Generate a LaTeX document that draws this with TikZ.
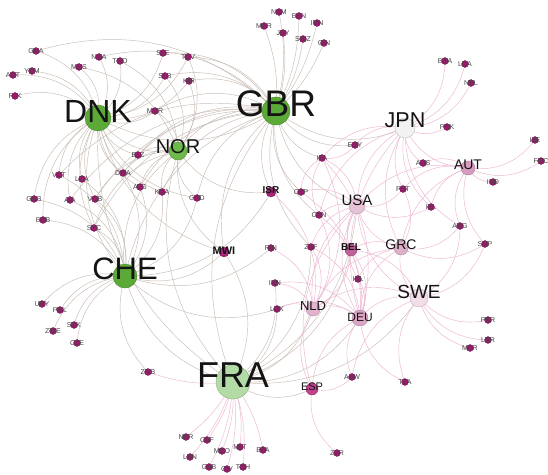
\documentclass[tikz,border=0pt]{standalone}
\usepackage{fontspec}
\setmainfont{Liberation Sans}
\usetikzlibrary{calc}
\pgfdeclarelayer{bg}
\pgfsetlayers{bg,main}
\definecolor{dotc}{HTML}{A3176F}
\definecolor{dotb}{HTML}{6B0B48}
\definecolor{hubg}{HTML}{5BAA38}
\definecolor{hubgl}{HTML}{6DB94A}
\definecolor{fral}{HTML}{B3DBA5}
\definecolor{edg}{HTML}{C9BCB4}
\definecolor{edp}{HTML}{EDB5D2}
\definecolor{labc}{HTML}{444444}
\definecolor{jpnc}{HTML}{F2F2F2}
\definecolor{usac}{HTML}{E6C3D6}
\definecolor{autc}{HTML}{D79BBF}
\definecolor{grcc}{HTML}{DDB0C9}
\definecolor{swec}{HTML}{F2DDE9}
\definecolor{nldc}{HTML}{E2B3CF}
\definecolor{deuc}{HTML}{DBA5C5}
\definecolor{belc}{HTML}{C0609A}
\definecolor{espc}{HTML}{C2418C}
\definecolor{mwic}{HTML}{A82579}
\begin{document}
\begin{tikzpicture}[x=1pt,y=-1pt,
  sm/.style={rectangle,inner sep=0pt,minimum height=8pt,minimum width=8pt,
    font=\fontsize{7}{7}\selectfont,text=labc,
    path picture={\fill[dotc,draw=dotb,line width=0.4pt] (path picture bounding box.center) circle (3.4pt);}},
  hub/.style n args={5}{circle,inner sep=0pt,minimum size=#1,fill=#2,draw=#2!80!black,line width=0.4pt,
    label={[font=\fontsize{#3}{#3}\selectfont,text=black!92,yshift=#4]center:#5}},
  hubb/.style n args={5}{circle,inner sep=0pt,minimum size=#1,fill=#2,draw=#2!80!black,line width=0.4pt,
    label={[font=\fontsize{#3}{#3}\selectfont\bfseries,text=black!92,yshift=#4]center:#5}},
  eg/.style={edg,line width=0.45pt},
  ep/.style={edp,line width=0.45pt}
]
\useasboundingbox (0,0) rectangle (548,474);
% hubs
\node[hub={26pt}{hubg}{32}{6.5pt}{DNK}] (DNK) at (98,118) {};
\node[hub={28pt}{hubg}{37}{7.5pt}{GBR}] (GBR) at (276,111) {};
\node[hub={18pt}{hubgl}{20}{4.5pt}{NOR}] (NOR) at (178,151) {};
\node[hub={24pt}{hubg}{31}{7.5pt}{CHE}] (CHE) at (125,276) {};
\node[hub={34pt}{fral}{36}{6.5pt}{FRA}] (FRA) at (233,382) {};
\node[hub={20pt}{jpnc}{21.5}{8pt}{JPN}] (JPN) at (405,128) {};
\node[hub={16pt}{usac}{15}{6pt}{USA}] (USA) at (357,206) {};
\node[hub={14pt}{autc}{14}{3pt}{AUT}] (AUT) at (468,168) {};
\node[hub={14pt}{grcc}{14}{3pt}{GRC}] (GRC) at (401,248) {};
\node[hub={18pt}{swec}{19}{6pt}{SWE}] (SWE) at (419,298) {};
\node[hub={14pt}{nldc}{13}{3pt}{NLD}] (NLD) at (313,309) {};
\node[hub={16pt}{deuc}{12}{1pt}{DEU}] (DEU) at (360,318) {};
\node[hubb={12pt}{belc}{10}{3pt}{BEL}] (BEL) at (351,250) {};
\node[hub={12pt}{espc}{11}{2pt}{ESP}] (ESP) at (312,389) {};
\node[hubb={10pt}{mwic}{11}{1pt}{MWI}] (MWI) at (224,252) {};
\node[hubb={10pt}{mwic}{10}{2pt}{ISR}] (ISR) at (271,192) {};
% small nodes
\foreach \n/\t/\x/\y in {
 GHA/GHA/36/51, YEM/YEM/32/71, AGT/AGT/13/75, FLK/FLK/15/96, MUS/MUS/79/67,
 NGA/NGA/99/57, TGO/TGO/120/61, SLE/SLE/163/53, TUV/TUV/188/57, SLB/SLB/165/76,
 KIR/KIR/189/81, MOR/MOR/155/111, BLZ/BLZ/138/155, VCT/VCT/59/175, LCAb/LCA/82/179,
 DMA/DMA/123/173, ATG/ATG/140/187, KNA/KNA/162/192, GRD/GRD/197/198, GNB/GNB/34/199,
 AIA/AIA/70/200, VGB/VGB/95/199, BRB/BRB/43/220, SYC/SYC/94/228, URY/URY/42/304,
 POL/POL/60/310, SVK/SVK/74/325, ZWE/ZWE/53/331, CZE/CZE/77/343, ZMB/ZMB/148/372,
 NAM/NAM/279/12, BEN/BEN/299/16, MHR/MHR/264/26, IMN/IMN/317/23, JEY/JEY/283/33,
 SWZ/SWZ/303/39, GIN/GIN/324/43, EGY/EGY/355/145, ITA/ITA/322/158, CYP/CYP/301/192,
 CAN/CAN/319/215, RIN/RIN/271/248, ZAF/ZAF/311/247, IRN/IRN/275/283, IRL/IRL/358/279,
 LUX/LUX/277/309, BRA/BRA/445/61, LCAa/LCA/465/64, NPL/NPL/471/83, PRK/PRK/447/127,
 AUS/AUS/423/163, LIE/LIE/535/140, FOC/FOC/541/161, IND/IND/493/182, PRT/PRT/403/189,
 ISL/ISL/431/207, ARG/ARG/460/226, SGP/SGP/485/244, PER/PER/488/320, LBR/LBR/488/340,
 MAR/MAR/470/348, TZA/TZA/405/382, ABW/ABW/352/377, ZAR/ZAR/337/453, NER/NER/186/437,
 CAF/CAF/207/440, MCO/MCO/222/451, MLT/MLT/240/447, BFA/BFA/263/450, LBN/LBN/190/457,
 GAB/GAB/209/467, CIV/CIV/227/469, TCH/TCH/243/467}
 \node[sm] (\n) at (\x,\y) {\t};
% edges
\begin{pgfonlayer}{bg}
\fill[white] (0,0) rectangle (548,474);
\foreach \t in {GHA,YEM,AGT,FLK,MUS,NGA,TGO,SLE,SLB,TUV,KIR,MOR,BLZ,VCT,LCAb,DMA,ATG,KNA,GRD,GNB,AIA,VGB,BRB,SYC,NOR,GBR,CHE,FRA,MWI}
  \draw[eg] (DNK.center) to[bend right=30] (\t.center);
\foreach \t in {NAM,BEN,MHR,IMN,JEY,SWZ,GIN}
  \draw[eg] (GBR.center) to[bend right=12] (\t.center);
\foreach \t in {SLE,SLB,TUV,KIR,MOR,BLZ,DMA,ATG,KNA,GRD,VCT,AIA,VGB,SYC,GHA,NGA,ISR,CYP,MWI,NOR,CHE,FRA,JPN,USA,ITA,EGY,CAN,ZAF}
  \draw[eg] (GBR.center) to[bend right=30] (\t.center);
\foreach \t in {SLB,KIR,MOR,BLZ,DMA,ATG,KNA,GRD,VGB,SYC,TUV,CHE,FRA,MWI,ISR,TGO,MUS}
  \draw[eg] (NOR.center) to[bend right=30] (\t.center);
\foreach \t in {URY,POL,SVK,ZWE,CZE,ZMB,GNB,BRB,AIA,VGB,SYC,LCAb,VCT,DMA,ATG,KNA,GRD,FRA,MWI,ISR,RIN,LUX}
  \draw[eg] (CHE.center) to[bend right=30] (\t.center);
\foreach \t in {NER,CAF,MCO,MLT,BFA,LBN,GAB,CIV,TCH,ZMB}
  \draw[ep] (FRA.center) to[bend left=12] (\t.center);
\foreach \t in {ESP,NLD,DEU,LUX,IRN,MWI,BEL,USA,ZAF,SWE}
  \draw[eg] (FRA.center) to[bend right=30] (\t.center);
\foreach \t in {BRA,LCAa,NPL,PRK,AUS,AUT,EGY,ITA,USA,PRT,ISL,ARG,CAN,DEU,GRC}
  \draw[ep] (JPN.center) to[bend right=30] (\t.center);
\foreach \t in {LIE,FOC,IND,AUS,PRT,ARG,ISL,SGP,USA,GRC}
  \draw[ep] (AUT.center) to[bend right=30] (\t.center);
\foreach \t in {ITA,CYP,CAN,ZAF,BEL,GRC,IRL,DEU,NLD,PRT,ISL,SWE,ESP}
  \draw[ep] (USA.center) to[bend right=30] (\t.center);
\foreach \t in {ARG,SGP,BEL,IRL,DEU,SWE,NLD,PRT}
  \draw[ep] (GRC.center) to[bend right=30] (\t.center);
\foreach \t in {PER,LBR,MAR,TZA,SGP,ARG,DEU,NLD,BEL,ABW}
  \draw[ep] (SWE.center) to[bend right=30] (\t.center);
\foreach \t in {TZA,ABW,ESP,NLD,IRL,BEL,ZAF,CAN,ITA,CYP,IRN,LUX}
  \draw[ep] (DEU.center) to[bend right=30] (\t.center);
\foreach \t in {ESP,LUX,IRN,RIN,ZAF,BEL,CAN,ITA,ISR}
  \draw[ep] (NLD.center) to[bend right=30] (\t.center);
\foreach \t in {ZAR,ABW}
  \draw[ep] (ESP.center) to[bend right=30] (\t.center);
\foreach \t in {EGY,CYP,CAN}
  \draw[ep] (ITA.center) to[bend right=30] (\t.center);
\end{pgfonlayer}
\end{tikzpicture}
\end{document}
